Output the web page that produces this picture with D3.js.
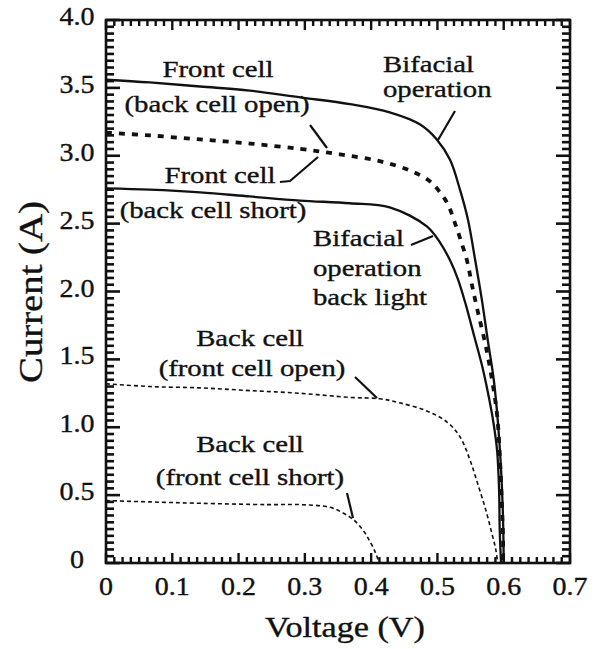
<!DOCTYPE html>
<html><head><meta charset="utf-8">
<script src="https://cdn.jsdelivr.net/npm/d3@7"></script>
<style>body{margin:0;background:#fff}text{font-family:"Liberation Serif","Times New Roman",serif;fill:#111;stroke:#111;stroke-width:0.35px}</style>
</head><body><svg id="c" width="596" height="649"></svg>
<script>
// ---- data ----
const xTickValues = [0, 0.1, 0.2, 0.3, 0.4, 0.5, 0.6, 0.7];
const xTickLabels = ["0", "0.1", "0.2", "0.3", "0.4", "0.5", "0.6", "0.7"];
const yTickValues = [0, 0.5, 1.0, 1.5, 2.0, 2.5, 3.0, 3.5, 4.0];
const yTickLabels = ["0", "0.5", "1.0", "1.5", "2.0", "2.5", "3.0", "3.5", "4.0"];

// Bifacial operation (solid, outer)
const bifacialV = [0, 0.066, 0.142, 0.217, 0.293, 0.368, 0.428, 0.474, 0.499, 0.519, 0.534, 0.546, 0.557, 0.567, 0.576, 0.585, 0.591, 0.596, 0.599, 0.600];
const bifacialI = [3.56, 3.54, 3.51, 3.48, 3.43, 3.38, 3.32, 3.23, 3.12, 2.97, 2.75, 2.53, 2.23, 1.94, 1.64, 1.35, 1.05, 0.69, 0.32, 0];
// Front cell, back cell open (thick dashed)
const frontOpenV = [0, 0.066, 0.142, 0.217, 0.293, 0.353, 0.413, 0.459, 0.489, 0.504, 0.516, 0.526, 0.535, 0.545, 0.552, 0.561, 0.572, 0.582, 0.590, 0.594, 0.597, 0.599, 0.599];
const frontOpenI = [3.17, 3.15, 3.12, 3.09, 3.05, 3.01, 2.96, 2.89, 2.81, 2.73, 2.64, 2.51, 2.38, 2.22, 2.05, 1.85, 1.62, 1.36, 1.09, 0.80, 0.46, 0.17, 0];
// Front cell, back cell short / bifacial operation back light (solid, inner)
const frontShortV = [0, 0.066, 0.142, 0.217, 0.293, 0.368, 0.428, 0.484, 0.504, 0.519, 0.531, 0.543, 0.555, 0.567, 0.576, 0.584, 0.590, 0.593, 0.594, 0.596];
const frontShortI = [2.76, 2.75, 2.73, 2.70, 2.67, 2.65, 2.62, 2.48, 2.36, 2.23, 2.09, 1.90, 1.68, 1.46, 1.26, 1.05, 0.83, 0.54, 0.24, 0];
// Back cell, front cell open (thin dashed)
const backOpenV = [0, 0.066, 0.142, 0.217, 0.293, 0.368, 0.413, 0.443, 0.484, 0.514, 0.534, 0.549, 0.561, 0.573, 0.582, 0.588, 0.591];
const backOpenI = [1.32, 1.30, 1.29, 1.27, 1.25, 1.22, 1.21, 1.18, 1.12, 1.04, 0.93, 0.76, 0.58, 0.39, 0.22, 0.10, 0];
// Back cell, front cell short (thin dashed)
const backShortV = [0, 0.066, 0.142, 0.243, 0.293, 0.338, 0.357, 0.373, 0.388, 0.398, 0.407, 0.412];
const backShortI = [0.46, 0.45, 0.44, 0.43, 0.43, 0.41, 0.37, 0.32, 0.24, 0.16, 0.07, 0];

// ---- layout ----
const svg = d3.select("#c");
const x = d3.scaleLinear().domain([0, 0.7]).range([106, 570]);
const y = d3.scaleLinear().domain([0, 4]).range([563, 20]);
const ink = "#111";
const X0 = x(0), X1 = x(0.7), Y0 = y(0), Y1 = y(4);

function txt(s, px, py, size, anchor, sx, rot) {
  svg.append("text")
    .attr("transform", `translate(${px},${py})` + (rot ? ` rotate(${rot})` : "") + ` scale(${sx},1)`)
    .attr("text-anchor", anchor)
    .style("font-size", size + "px")
    .text(s);
}

// frame
svg.append("rect").attr("x", X0).attr("y", Y1).attr("width", X1 - X0).attr("height", Y0 - Y1)
  .attr("fill", "none").attr("stroke", ink).attr("stroke-width", 2.6);

// ticks (inward on all four sides), positioned with the scales
const xMinor = d3.range(0, 57).map(k => k * 0.0125);
const yMinor = d3.range(0, 81).map(k => k * 0.05);
const tg = svg.append("g").attr("fill", ink);
xMinor.forEach((v, k) => {
  const L = (k % 8 === 0) ? 10 : 6;
  tg.append("rect").attr("x", x(v) - 1.2).attr("width", 2.4).attr("y", Y0 - L).attr("height", L);
  tg.append("rect").attr("x", x(v) - 1.2).attr("width", 2.4).attr("y", Y1).attr("height", L);
});
yMinor.forEach((v, k) => {
  const L = (k % 10 === 0) ? 14 : 8;
  tg.append("rect").attr("y", y(v) - 1.3).attr("height", 2.6).attr("x", X0).attr("width", L);
  tg.append("rect").attr("y", y(v) - 1.3).attr("height", 2.6).attr("x", X1 - L).attr("width", L);
});

// tick labels
xTickValues.forEach((v, i) => txt(xTickLabels[i], x(v), 595, 25, "middle", 1.12));
yTickValues.forEach((v, i) => txt(yTickLabels[i], 77, y(v) + 5, 25, "middle", 1.12));

// axis titles
txt("Voltage (V)", 345, 637, 30, "middle", 1.14);
txt("Current (A)", 42, 292, 34, "middle", 1.14, -90);

// curves
const lineX = d3.line().x(d => x(d[0])).y(d => y(d[1])).curve(d3.curveCatmullRom.alpha(0.5));
function curve(V, I, w, dash) {
  svg.append("path").datum(V.map((v, i) => [v, I[i]]))
    .attr("d", lineX).attr("fill", "none").attr("stroke", ink)
    .attr("stroke-width", w).attr("stroke-dasharray", dash || null)
    .attr("stroke-linejoin", "round");
}
curve(bifacialV, bifacialI, 2.3);
curve(frontShortV, frontShortI, 2.3);
curve(frontOpenV, frontOpenI, 3.8, "6,7");
curve(backOpenV, backOpenI, 1.6, "4,3");
curve(backShortV, backShortI, 1.6, "4,3");

// annotations
const A = 23, S = 1.25;
txt("Front cell", 218, 77, A, "middle", S);
txt("(back cell open)", 217, 112, A, "middle", S);
txt("Front cell", 220, 183, A, "middle", S);
txt("(back cell short)", 213, 218, A, "middle", S);
txt("Bifacial", 383, 72, A, "start", S);
txt("operation", 383, 97, A, "start", S);
txt("Bifacial", 313, 246, A, "start", S);
txt("operation", 313, 276, A, "start", S);
txt("back light", 313, 305, A, "start", S);
txt("Back cell", 250, 346, A, "middle", S);
txt("(front cell open)", 252, 376, A, "middle", S);
txt("Back cell", 250, 452, A, "middle", S);
txt("(front cell short)", 250, 485, A, "middle", S);

const leaders = [
  [[310,125],[327,148]],
  [[280,182],[290,181],[318,157]],
  [[455,111],[438,140]],
  [[411,245],[433,236]],
  [[355,377],[377,398]],
  [[347,493],[353,518]]
];
leaders.forEach(p => svg.append("path").attr("d", d3.line()(p))
  .attr("fill", "none").attr("stroke", ink).attr("stroke-width", 2.2));
</script>
</body></html>
